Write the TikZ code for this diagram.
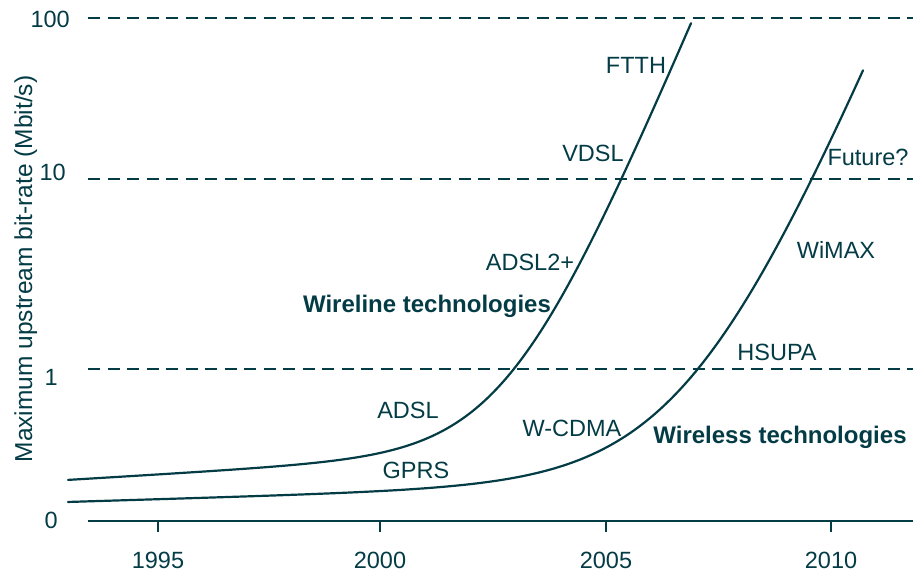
\documentclass[tikz,border=0pt]{standalone}
\usepackage{xcolor}
\usepackage{fontspec}
\setmainfont{Liberation Sans}
\usepackage{tikz}
\usetikzlibrary{positioning}
\definecolor{darkteal}{RGB}{4,60,70}
\tikzstyle{lbl}=[text=darkteal, font=\fontsize{23.5}{27}\selectfont, inner sep=0, anchor=base]
\tikzstyle{boldlbl}=[lbl, font=\fontsize{24}{28}\selectfont\bfseries]
\tikzstyle{gridline}=[darkteal, line width=2.6pt, dash pattern=on 12pt off 7.5pt]
\tikzstyle{curve}=[darkteal, line width=2.2pt, line cap=round]

\begin{document}
\begin{tikzpicture}[x=1pt, y=-1pt]
\useasboundingbox (0,0) rectangle (913,576);
% axis and grid
\draw[darkteal, line width=2.6pt] (88,521)--(913,521);
\draw[gridline] (88,18)--(913,18);
\draw[gridline] (88,179)--(913,179);
\draw[gridline] (88,369)--(913,369);
\foreach \x/\yr in {158/1995, 380/2000, 606/2005, 831/2010}{
  \draw[darkteal, line width=2.6pt] (\x,521)--(\x,532);
  \node[lbl] (year\yr) at (\x,568) {\yr};
}
\node[lbl, anchor=base east] (v100) at (70,27) {100};
\node[lbl, anchor=base east] (v10) at (66,180) {10};
\node[lbl, anchor=base east] (v1) at (58,385) {1};
\node[lbl, anchor=base east] (v0) at (58,528) {0};
\node[lbl, rotate=90, font=\fontsize{24.5}{28}\selectfont] (ylabel) at (32,269) {Maximum upstream bit-rate (Mbit/s)};
% wireline
\draw[curve] plot[domain=68:691, samples=150, smooth] (\x, {521-(37+0.06*\x+115*ln(1+exp((\x-510)/50)))});
% wireless
\draw[curve] plot[domain=68:863, samples=150, smooth] (\x, {521-(17+0.03*\x+159.8*ln(1+exp((\x-695)/68)))});
% labels
\node[lbl] (ftth) at (636,73) {FTTH};
\node[lbl] (vdsl) at (593,161) {VDSL};
\node[lbl] (adsltwo) at (530,270) {ADSL2+};
\node[boldlbl] (wireline) at (427,312) {Wireline technologies};
\node[lbl] (adsl) at (408,418) {ADSL};
\node[lbl] (gprs) at (416,478) {GPRS};
\node[lbl] (wcdma) at (572,436) {W-CDMA};
\node[boldlbl] (wireless) at (780,443) {Wireless technologies};
\node[lbl] (hsupa) at (777,360) {HSUPA};
\node[lbl] (wimax) at (836,258) {WiMAX};
\node[lbl] (future) at (868,165) {Future?};
\end{tikzpicture}
\end{document}
